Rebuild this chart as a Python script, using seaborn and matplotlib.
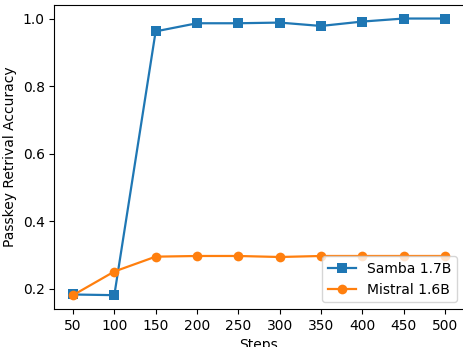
import pandas as pd
import seaborn as sns
import matplotlib.pyplot as plt

steps = [50, 100, 150, 200, 250, 300, 350, 400, 450, 500]
samba = [0.183, 0.181, 0.962, 0.986, 0.986, 0.988, 0.978, 0.991, 1.0, 1.0]
mistral = [0.181, 0.251, 0.295, 0.297, 0.297, 0.294, 0.297, 0.297, 0.297, 0.297]

df = pd.DataFrame({
    'Steps': steps * 2,
    'acc': samba + mistral,
    'model': ['Samba 1.7B'] * len(steps) + ['Mistral 1.6B'] * len(steps),
})

fig = plt.figure(figsize=(4.64, 3.47), dpi=100)
ax = fig.add_axes([54.4 / 464, 38 / 347, (463.5 - 54.4) / 464, (342.3 - 38) / 347])

sns.lineplot(data=df, x='Steps', y='acc', hue='model', style='model',
             markers={'Samba 1.7B': 's', 'Mistral 1.6B': 'o'}, dashes=False,
             palette=['#1f77b4', '#ff7f0e'], markersize=7, linewidth=1.6,
             markeredgewidth=0, ax=ax)

ax.set_xticks(steps)
ax.set_xlabel('Steps')
ax.set_ylabel('Passkey Retrival Accuracy')
ax.legend(loc='lower right', title=None)

fig.savefig('out.png', dpi=100)
